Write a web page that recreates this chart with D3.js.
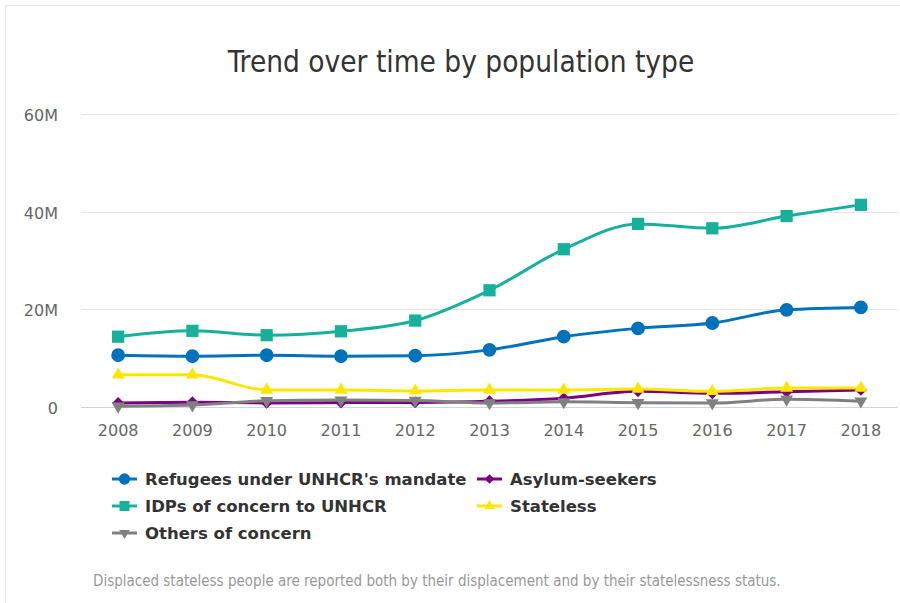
<!DOCTYPE html>
<html>
<head>
<meta charset="utf-8">
<script src="https://cdn.jsdelivr.net/npm/d3@7"></script>
<style>
  body { margin: 0; background: #fff; }
  svg { display: block; }
</style>
</head>
<body>
<script>
const years = ["2008", "2009", "2010", "2011", "2012", "2013", "2014", "2015", "2016", "2017", "2018"];
const yTicks = [0, 20e6, 40e6, 60e6];

// values, in people
const refugees = [10.6e6, 10.4e6, 10.6e6, 10.4e6, 10.5e6, 11.7e6, 14.4e6, 16.1e6, 17.2e6, 19.9e6, 20.4e6];
const asylum   = [0.83e6, 0.98e6, 0.84e6, 0.9e6, 0.94e6, 1.17e6, 1.8e6, 3.2e6, 2.8e6, 3.1e6, 3.5e6];
const idps     = [14.4e6, 15.6e6, 14.7e6, 15.5e6, 17.7e6, 23.9e6, 32.3e6, 37.5e6, 36.6e6, 39.1e6, 41.4e6];
const stateless = [6.6e6, 6.6e6, 3.5e6, 3.5e6, 3.3e6, 3.5e6, 3.5e6, 3.7e6, 3.2e6, 3.9e6, 3.9e6];
const others   = [0.17e6, 0.41e6, 1.26e6, 1.41e6, 1.33e6, 0.84e6, 1.05e6, 0.87e6, 0.8e6, 1.6e6, 1.2e6];

const series = [
  { name: "Refugees under UNHCR's mandate", values: refugees, color: "#0072bc", symbol: "circle" },
  { name: "Asylum-seekers", values: asylum, color: "#7b0082", symbol: "diamond" },
  { name: "IDPs of concern to UNHCR", values: idps, color: "#17b19b", symbol: "square" },
  { name: "Stateless", values: stateless, color: "#ffe600", symbol: "triangle" },
  { name: "Others of concern", values: others, color: "#808080", symbol: "triangle-down" }
];

const width = 900, height = 603;
const svg = d3.select("body").append("svg").attr("width", width).attr("height", height);

// card border
svg.append("rect")
  .attr("x", 5.5).attr("y", 5.5).attr("width", width + 10).attr("height", height + 10)
  .attr("fill", "#fff").attr("stroke", "#e6e6e6");

svg.append("text")
  .attr("x", 461).attr("y", 72)
  .attr("text-anchor", "middle")
  .style("font-family", "'DejaVu Sans Condensed', 'DejaVu Sans'")
  .style("font-size", "29.5px")
  .attr("fill", "#333")
  .text("Trend over time by population type");

const x = d3.scalePoint().domain(years).range([81, 898]).padding(0.5);
const y = d3.scaleLinear().domain([0, 60e6]).range([407, 114]);

// gridlines
svg.append("g")
  .selectAll("line")
  .data(yTicks)
  .join("line")
  .attr("x1", 81).attr("x2", 898)
  .attr("y1", d => Math.round(y(d)) + 0.5).attr("y2", d => Math.round(y(d)) + 0.5)
  .attr("stroke", d => d === 0 ? "#ccd6eb" : "#e6e6e6");

const fmt = d => d === 0 ? "0" : (d / 1e6) + "M";

svg.append("g")
  .selectAll("text")
  .data(yTicks)
  .join("text")
  .attr("x", 58).attr("y", d => y(d) + 7)
  .attr("text-anchor", "end")
  .style("font-family", "'DejaVu Sans'")
  .style("font-size", "16px")
  .attr("fill", "#666")
  .text(fmt);

svg.append("g")
  .selectAll("text")
  .data(years)
  .join("text")
  .attr("x", d => x(d)).attr("y", 436)
  .attr("text-anchor", "middle")
  .style("font-family", "'DejaVu Sans'")
  .style("font-size", "16px")
  .attr("fill", "#666")
  .text(d => d);

const line = d3.line()
  .x((d, i) => x(years[i]))
  .y(d => y(d))
  .curve(d3.curveMonotoneX);

const symbolPath = (s, size) => {
  if (s === "circle") return d3.symbol(d3.symbolCircle, size)();
  if (s === "square") return d3.symbol(d3.symbolSquare, size)();
  if (s === "diamond") return d3.symbol(d3.symbolDiamond2, size * 0.6)();
  return d3.symbol(d3.symbolTriangle2, size * 0.8)();
};

const plot = svg.append("g");
series.forEach(s => {
  const g = plot.append("g");
  g.append("path")
    .attr("d", line(s.values))
    .attr("fill", "none")
    .attr("stroke", s.color)
    .attr("stroke-width", 3);
  g.selectAll("path.m")
    .data(s.values)
    .join("path")
    .attr("class", "m")
    .attr("d", symbolPath(s.symbol, 150))
    .attr("transform", (d, i) => `translate(${x(years[i])},${y(d)})` + (s.symbol === "triangle-down" ? " rotate(180)" : ""))
    .attr("fill", s.color);
});

// legend
const legendPos = [[112, 479], [477, 479], [112, 506], [477, 506], [112, 533]];
const legend = svg.append("g");
series.forEach((s, i) => {
  const [lx, ly] = legendPos[i];
  const g = legend.append("g").attr("transform", `translate(${lx},${ly})`);
  g.append("line").attr("x1", 0).attr("x2", 25).attr("y1", 0).attr("y2", 0)
    .attr("stroke", s.color).attr("stroke-width", 3);
  g.append("path")
    .attr("d", symbolPath(s.symbol, 100))
    .attr("transform", "translate(12.5,0)" + (s.symbol === "triangle-down" ? " rotate(180)" : ""))
    .attr("fill", s.color);
  g.append("text")
    .attr("x", 33).attr("y", 6)
    .style("font-family", "'DejaVu Sans'")
    .style("font-weight", "bold")
    .style("font-size", "16.5px")
    .attr("fill", "#333")
    .text(s.name);
});

svg.append("text")
  .attr("x", 93).attr("y", 586)
  .style("font-family", "'DejaVu Sans Condensed', 'DejaVu Sans'")
  .style("font-size", "15px")
  .attr("fill", "#999")
  .text("Displaced stateless people are reported both by their displacement and by their statelessness status.");
</script>
</body>
</html>
